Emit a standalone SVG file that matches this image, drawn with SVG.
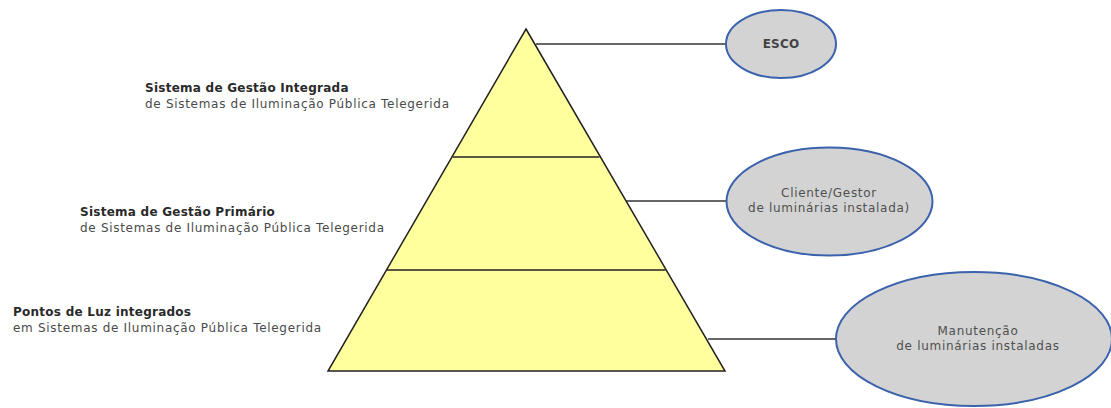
<svg xmlns="http://www.w3.org/2000/svg" width="1111" height="408" viewBox="0 0 1111 408">
  <style>
    text { font-family: "DejaVu Sans", Verdana, sans-serif; font-size: 12px; letter-spacing: 0.7px; }
    .title { font-weight: bold; fill: #2a2a2a; letter-spacing: 0.25px; }
    .sub { fill: #4a4a4a; }
    .node ellipse { fill: #d3d3d3; stroke: #3b62ad; stroke-width: 2; }
    .node text { fill: #505050; text-anchor: middle; }
    .node text.strong { font-weight: bold; fill: #444; letter-spacing: 0.2px; }
    .conn line { stroke: #333; stroke-width: 1.3; }
    .tier { fill: #ffff9e; stroke: #222; stroke-width: 1.5; }
    .div { stroke: #222; stroke-width: 1.5; }
  </style>
  <rect width="1111" height="408" fill="#ffffff"/>

  <!-- connectors from pyramid tiers to actors -->
  <g id="connectors" class="conn">
    <line x1="536" y1="44" x2="727" y2="44"/>
    <line x1="626" y1="201" x2="727" y2="201"/>
    <line x1="708" y1="339" x2="836" y2="339"/>
  </g>

  <!-- pyramid -->
  <g id="pyramid">
    <polygon class="tier" points="526,29 725,371 328,371"/>
    <line class="div" x1="452.5" y1="157" x2="599.5" y2="157"/>
    <line class="div" x1="386.5" y1="270" x2="665.5" y2="270"/>
  </g>

  <!-- tier labels -->
  <g id="label-top">
    <text class="title" x="145" y="92">Sistema de Gestão Integrada</text>
    <text class="sub" x="145" y="108">de Sistemas de Iluminação Pública Telegerida</text>
  </g>
  <g id="label-mid">
    <text class="title" x="80" y="216">Sistema de Gestão Primário</text>
    <text class="sub" x="80" y="232">de Sistemas de Iluminação Pública Telegerida</text>
  </g>
  <g id="label-base">
    <text class="title" x="13" y="316">Pontos de Luz integrados</text>
    <text class="sub" x="13" y="332">em Sistemas de Iluminação Pública Telegerida</text>
  </g>

  <!-- actors -->
  <g id="node-esco" class="node">
    <ellipse cx="781" cy="44" rx="55" ry="34"/>
    <text class="strong" x="781" y="48">ESCO</text>
  </g>
  <g id="node-cliente" class="node">
    <ellipse cx="829.5" cy="201.5" rx="103" ry="54"/>
    <text x="829" y="197">Cliente/Gestor</text>
    <text x="829" y="212">de luminárias instalada)</text>
  </g>
  <g id="node-manutencao" class="node">
    <ellipse cx="974" cy="339" rx="138" ry="67"/>
    <text x="978" y="335">Manutenção</text>
    <text x="978" y="350">de luminárias instaladas</text>
  </g>
</svg>
